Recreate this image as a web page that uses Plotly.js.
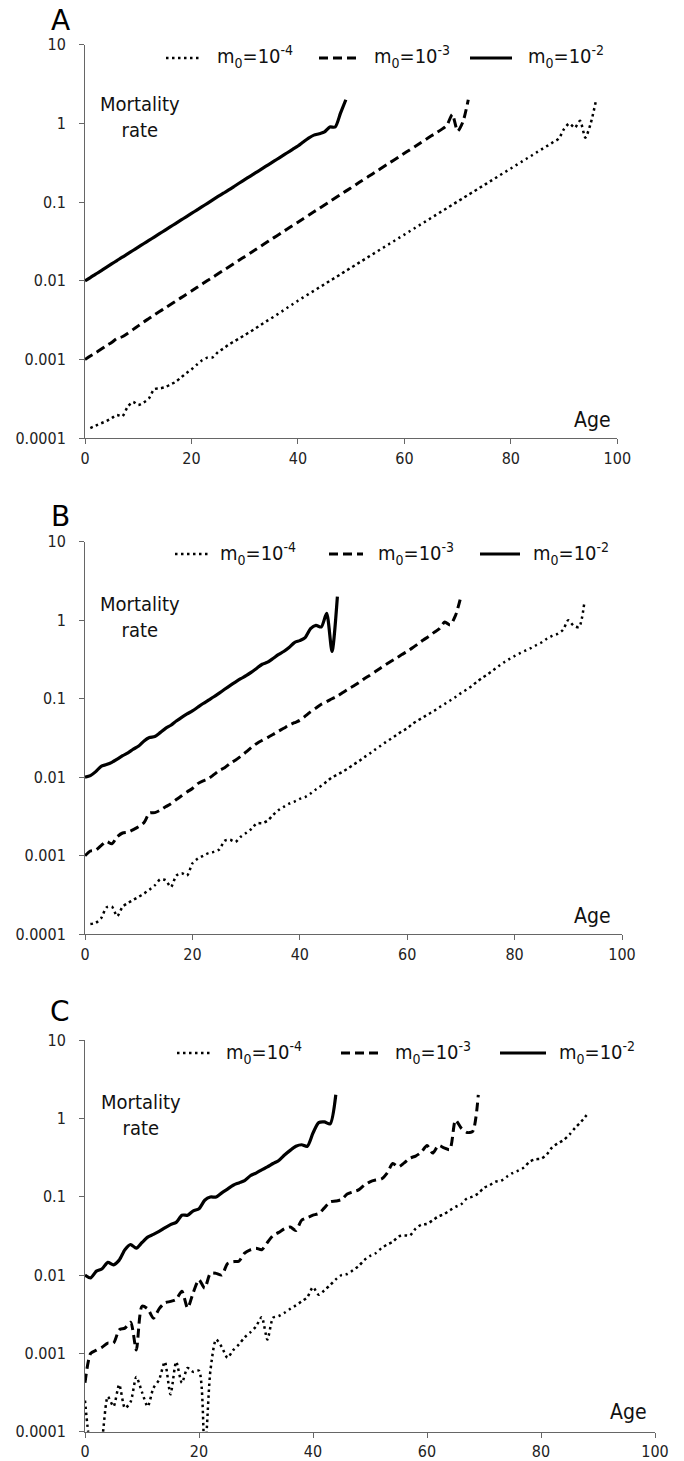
<!DOCTYPE html>
<html><head><meta charset="utf-8">
<script src="https://cdn.plot.ly/plotly-3.0.1.min.js"></script>
<style>html,body{margin:0;padding:0;background:#fff}#chart{width:684px;height:1461px}</style>
</head><body><div id="chart"></div>
<script>
// ---------- text ----------
const panelLetters = ["A", "B", "C"];
const seriesNames = ["m<sub>0</sub>=10<sup>-4</sup>", "m<sub>0</sub>=10<sup>-3</sup>", "m<sub>0</sub>=10<sup>-2</sup>"];
const yAxisLabel = "Mortality<br>rate";
const xAxisLabel = "Age";
const yTickVals = [0.0001, 0.001, 0.01, 0.1, 1, 10];
const yTickText = ["0.0001", "0.001", "0.01", "0.1", "1", "10"];
const xTickVals = [0, 20, 40, 60, 80, 100];

// ---------- data (mortality rate by age) ----------
// Panel A
const A_m4_startAge = 1;
const A_m4 = [0.000135,0.000145,0.000155,0.000165,0.000180,0.000198,0.000190,0.000250,0.000290,0.000265,
  0.000285,0.000320,0.000420,0.000430,0.000445,0.000480,0.000520,0.000590,0.000670,0.000750,
  0.000860,0.000980,0.00106,0.00107,0.00125,0.00138,0.00155,0.00170,0.00186,0.00205,
  0.00225,0.00248,0.00275,0.00305,0.00335,0.00370,0.00410,0.00455,0.00505,0.00560,
  0.00617,0.00679,0.00748,0.00824,0.00908,0.0100,0.0110,0.0121,0.0134,0.0147,
  0.0162,0.0179,0.0197,0.0217,0.0239,0.0263,0.0290,0.0319,0.0352,0.0387,
  0.0427,0.0470,0.0518,0.0570,0.0628,0.0692,0.0762,0.0839,0.0925,0.102,
  0.112,0.124,0.136,0.150,0.165,0.182,0.200,0.221,0.243,0.268,
  0.295,0.325,0.358,0.394,0.435,0.479,0.527,0.581,0.640,0.85,
  1.0,0.88,1.08,0.66,1.0,1.95];
const A_m3_startAge = 0;
const A_m3 = [0.00100,0.00111,0.00122,0.00135,0.00150,0.00165,0.00185,0.00195,0.00215,0.00240,
  0.00268,0.00300,0.00332,0.00368,0.00407,0.00450,0.00498,0.00550,0.00608,0.00672,
  0.00743,0.00822,0.00909,0.0101,0.0111,0.0123,0.0136,0.0150,0.0166,0.0184,
  0.0203,0.0225,0.0249,0.0275,0.0304,0.0337,0.0372,0.0412,0.0455,0.0504,
  0.0557,0.0616,0.0681,0.0753,0.0833,0.0921,0.102,0.113,0.125,0.138,
  0.152,0.169,0.187,0.206,0.228,0.252,0.279,0.309,0.341,0.377,
  0.417,0.461,0.510,0.564,0.624,0.690,0.760,0.84,0.95,1.30,
  0.80,1.05,2.0];
const A_m2_startAge = 0;
const A_m2 = [0.0100,0.0110,0.0122,0.0134,0.0148,0.0164,0.0181,0.0200,0.0220,0.0243,
  0.0268,0.0296,0.0326,0.0360,0.0397,0.0439,0.0484,0.0534,0.0590,0.0651,
  0.0718,0.0793,0.0875,0.0966,0.107,0.118,0.130,0.143,0.158,0.175,
  0.193,0.213,0.235,0.259,0.286,0.315,0.348,0.384,0.424,0.468,
  0.516,0.58,0.65,0.71,0.74,0.78,0.90,0.90,1.35,2.0];

// Panel B
const B_m4_startAge = 1;
const B_m4 = [0.000135,0.000140,0.000160,0.000220,0.000225,0.000170,0.000225,0.000250,0.000275,0.000300,
  0.000330,0.000370,0.000420,0.000500,0.000490,0.000400,0.000560,0.000600,0.000560,0.000800,
  0.000920,0.00100,0.00108,0.00112,0.00120,0.00155,0.00160,0.00150,0.00175,0.00195,
  0.00220,0.00260,0.00260,0.00280,0.00330,0.00380,0.00420,0.00460,0.00490,0.00530,
  0.00560,0.00620,0.00700,0.00780,0.00880,0.0100,0.0108,0.0118,0.0130,0.0145,
  0.0160,0.0180,0.0200,0.0225,0.0250,0.0280,0.0310,0.0345,0.0385,0.0420,
  0.0480,0.0530,0.0580,0.0640,0.0700,0.0780,0.0860,0.0950,0.105,0.118,
  0.130,0.145,0.165,0.185,0.205,0.230,0.260,0.290,0.320,0.350,
  0.380,0.410,0.440,0.480,0.520,0.580,0.630,0.670,0.750,1.00,
  0.85,0.82,1.70];
const B_m3_startAge = 0;
const B_m3 = [0.00100,0.00115,0.00118,0.00135,0.00152,0.00142,0.00175,0.00195,0.00200,0.00215,
  0.00235,0.00265,0.00350,0.00355,0.00380,0.00420,0.00460,0.00520,0.00580,0.00650,
  0.00720,0.00830,0.00900,0.00960,0.0108,0.0122,0.0132,0.0150,0.0165,0.0185,
  0.0210,0.0240,0.0270,0.0295,0.0320,0.0350,0.0385,0.0420,0.0460,0.0495,
  0.0530,0.0600,0.0680,0.0760,0.0850,0.0920,0.100,0.108,0.120,0.133,
  0.145,0.160,0.180,0.198,0.220,0.245,0.272,0.300,0.330,0.365,
  0.400,0.445,0.500,0.560,0.620,0.700,0.780,0.950,0.870,1.15,
  2.0];
const B_m2_startAge = 0;
const B_m2 = [0.0100,0.0105,0.0118,0.0138,0.0145,0.0155,0.0170,0.0188,0.0205,0.0228,
  0.0250,0.0290,0.0320,0.0330,0.0370,0.0420,0.0460,0.0520,0.0580,0.0640,
  0.0700,0.0780,0.0870,0.0960,0.106,0.118,0.132,0.147,0.163,0.180,
  0.197,0.218,0.245,0.275,0.292,0.325,0.365,0.400,0.450,0.520,
  0.550,0.600,0.780,0.860,0.820,1.22,0.40,2.0];

// Panel C
const C_m4_startAge = 0;
const C_m4 = [0.00025,0.00006,0.00004,0.00008,0.00028,0.00021,0.00040,0.00020,0.00024,0.00050,
  0.00032,0.00021,0.00036,0.00046,0.00078,0.00030,0.00078,0.00042,0.00065,0.00058,
  0.00060,0.00005,0.00060,0.00150,0.00120,0.00088,0.00110,0.00130,0.00160,0.00185,
  0.00220,0.00290,0.00150,0.00285,0.00300,0.00330,0.00370,0.00410,0.00460,0.00520,
  0.00700,0.00560,0.00640,0.00740,0.00880,0.0100,0.0103,0.0115,0.0130,0.0155,
  0.0175,0.0190,0.0220,0.0245,0.0265,0.0310,0.0320,0.0320,0.0390,0.0440,
  0.0450,0.0500,0.0560,0.0600,0.0670,0.0740,0.0800,0.0950,0.100,0.110,
  0.130,0.140,0.155,0.160,0.180,0.200,0.215,0.235,0.280,0.300,
  0.305,0.345,0.430,0.480,0.530,0.620,0.760,0.900,1.10];
const C_m3_startAge = 0;
const C_m3 = [0.00042,0.00100,0.00110,0.00120,0.00135,0.00135,0.00200,0.00210,0.00250,0.00110,
  0.00400,0.00370,0.00280,0.00370,0.00440,0.00460,0.00490,0.00620,0.00380,0.00600,
  0.00870,0.00680,0.0105,0.0105,0.0100,0.0140,0.0148,0.0150,0.0190,0.0210,
  0.0220,0.0210,0.0260,0.0320,0.0350,0.0390,0.0410,0.0370,0.0500,0.0540,
  0.0580,0.0610,0.0720,0.0860,0.0880,0.0920,0.108,0.115,0.122,0.140,
  0.155,0.163,0.168,0.200,0.265,0.240,0.270,0.310,0.330,0.370,
  0.450,0.360,0.450,0.420,0.400,0.950,0.750,0.660,0.680,2.00];
const C_m2_startAge = 0;
const C_m2 = [0.0100,0.0092,0.0112,0.0120,0.0145,0.0135,0.0155,0.0210,0.0245,0.0220,
  0.0260,0.0305,0.0330,0.0360,0.0400,0.0440,0.0470,0.0580,0.0580,0.0660,
  0.0700,0.0900,0.0990,0.0990,0.112,0.125,0.140,0.150,0.160,0.185,
  0.200,0.220,0.240,0.265,0.290,0.340,0.390,0.440,0.460,0.440,
  0.650,0.880,0.900,0.850,2.00];

// ---------- layout geometry (pixels) ----------
const W = 684, H = 1461;
const FONT = "DejaVu Sans Condensed, DejaVu Sans, sans-serif";
const panels = [
  {series: [[A_m4_startAge, A_m4], [A_m3_startAge, A_m3], [A_m2_startAge, A_m2]],
   box: [85, 617.3, 44.7, 438.3], legY: 57, leg: [[166, 199, 215], [319, 361, 372], [470, 512, 526]],
   mort: [140, 117], age: [592, 420], letter: [60, 20]},
  {series: [[B_m4_startAge, B_m4], [B_m3_startAge, B_m3], [B_m2_startAge, B_m2]],
   box: [85, 622, 541.7, 934.3], legY: 553, leg: [[175, 208, 218], [329, 363, 376], [480, 520, 531]],
   mort: [140, 617], age: [592, 916], letter: [60, 516]},
  {series: [[C_m4_startAge, C_m4], [C_m3_startAge, C_m3], [C_m2_startAge, C_m2]],
   box: [85, 655, 1040, 1431.7], legY: 1052, leg: [[177, 212, 224], [341, 380, 393], [500, 546, 557]],
   mort: [141, 1115], age: [628, 1412], letter: [60, 1011]}
];
const lineStyles = [
  {color: "#000", width: 2.5, dash: "2.5px,3.5px"},
  {color: "#000", width: 3, dash: "9px,5px"},
  {color: "#000", width: 3.2, dash: "solid"}
];
const px = x => x / W;
const py = y => 1 - y / H;

const traces = [];
const layout = {
  width: W, height: H, margin: {l: 0, r: 0, t: 0, b: 0},
  paper_bgcolor: "#fff", plot_bgcolor: "#fff", showlegend: false,
  font: {family: FONT, color: "#222", size: 16},
  shapes: [], annotations: []
};

panels.forEach((p, i) => {
  const n = i + 1;
  const xa = "x" + (n === 1 ? "" : n), ya = "y" + (n === 1 ? "" : n);
  const xKey = "xaxis" + (n === 1 ? "" : n), yKey = "yaxis" + (n === 1 ? "" : n);
  const [x0, x1, y0, y1] = p.box;
  layout[xKey] = {
    domain: [px(x0), px(x1)], anchor: ya, range: [0, 100], tickvals: xTickVals,
    ticks: "outside", ticklen: 5, tickcolor: "#666", tickwidth: 1,
    showline: true, linecolor: "#666", linewidth: 1, showgrid: false, zeroline: false,
    tickfont: {family: FONT, size: 16, color: "#222"}, ticklabelstandoff: 0, fixedrange: true
  };
  layout[yKey] = {
    domain: [py(y1), py(y0)], anchor: xa, type: "log", range: [-4, 1],
    tickvals: yTickVals, ticktext: yTickText,
    ticks: "outside", ticklen: 5, tickcolor: "#666", tickwidth: 1,
    showline: true, linecolor: "#666", linewidth: 1, showgrid: false, zeroline: false,
    tickfont: {family: FONT, size: 16, color: "#222"}, ticklabelstandoff: 10, fixedrange: true
  };
  p.series.forEach(([start, vals], k) => {
    traces.push({
      type: "scatter", mode: "lines", xaxis: xa, yaxis: ya,
      x: vals.map((_, j) => start + j), y: vals,
      name: seriesNames[k].replace(/<[^>]+>/g, ""),
      line: Object.assign({shape: "spline", smoothing: 0.7}, lineStyles[k]),
      hoverinfo: "x+y"
    });
    // legend sample and label
    const [s0, s1, tx] = p.leg[k];
    layout.shapes.push({type: "line", xref: "paper", yref: "paper",
      x0: px(s0), x1: px(s1), y0: py(p.legY + 1), y1: py(p.legY + 1),
      line: {color: "#000", width: lineStyles[k].width, dash: lineStyles[k].dash}});
    layout.annotations.push({xref: "paper", yref: "paper", x: px(tx), y: py(p.legY),
      xanchor: "left", yanchor: "middle", showarrow: false, text: seriesNames[k],
      font: {family: FONT, size: 20, color: "#111"}});
  });
  layout.annotations.push({xref: "paper", yref: "paper", x: px(p.mort[0]), y: py(p.mort[1]),
    xanchor: "center", yanchor: "middle", showarrow: false, align: "center", text: yAxisLabel,
    font: {family: FONT, size: 20, color: "#111"}});
  layout.annotations.push({xref: "paper", yref: "paper", x: px(p.age[0]), y: py(p.age[1]),
    xanchor: "center", yanchor: "middle", showarrow: false, text: xAxisLabel,
    font: {family: FONT, size: 21, color: "#111"}});
  layout.annotations.push({xref: "paper", yref: "paper", x: px(p.letter[0]), y: py(p.letter[1]),
    xanchor: "center", yanchor: "middle", showarrow: false, text: panelLetters[i],
    font: {family: "DejaVu Sans, sans-serif", size: 28, color: "#000"}});
});

Plotly.newPlot("chart", traces, layout, {staticPlot: true, displayModeBar: false});
</script>
</body></html>
